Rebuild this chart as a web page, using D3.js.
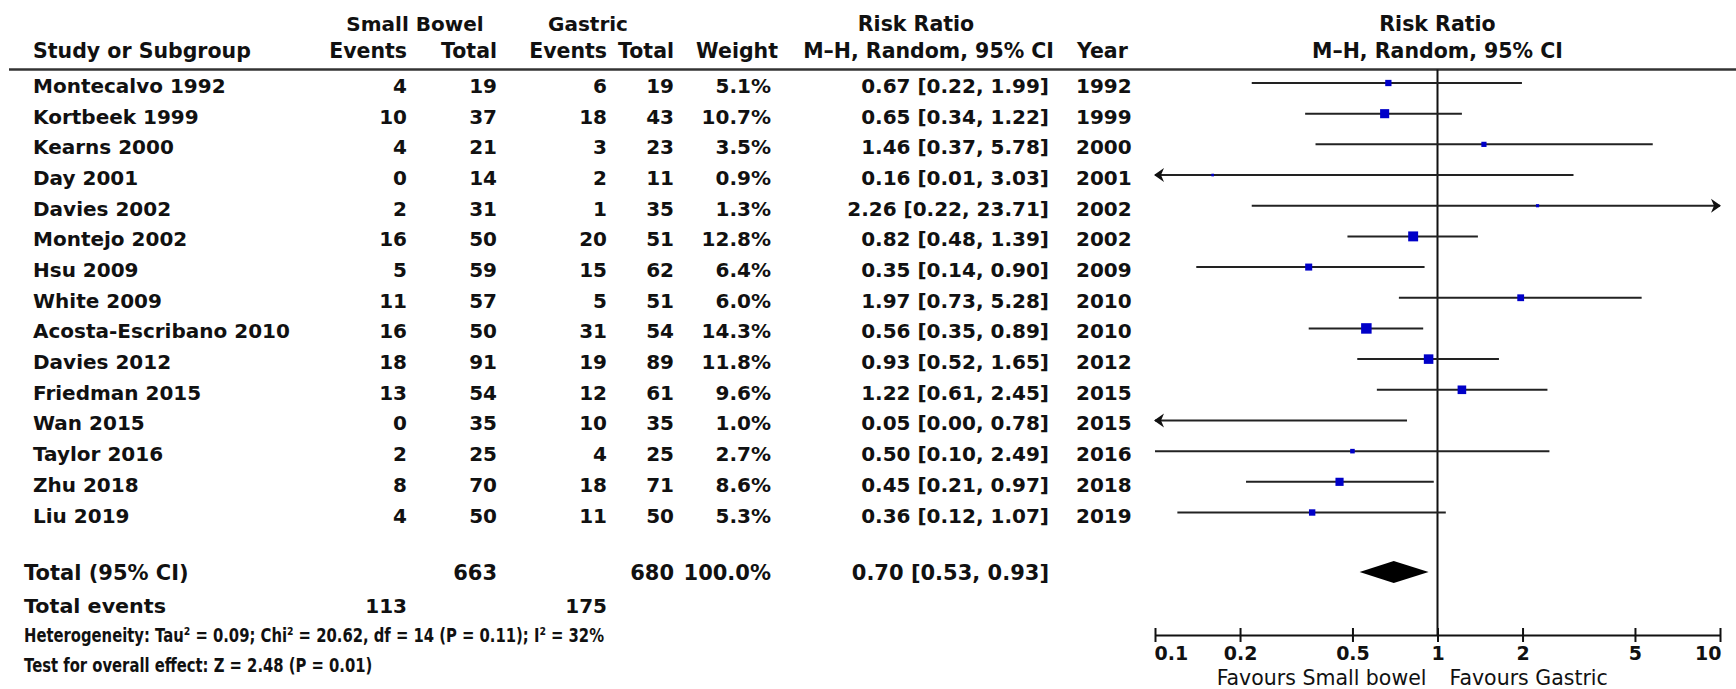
<!DOCTYPE html>
<html>
<head>
<meta charset="utf-8">
<script src="https://cdn.jsdelivr.net/npm/d3@7/dist/d3.min.js"></script>
<style>
  body { margin: 0; background: #fff; }
  svg { display: block; }
  text { font-family: "DejaVu Sans", sans-serif; fill: #111; }
</style>
</head>
<body>
<div id="chart"></div>
<script>
// study data
var studies = ["Montecalvo 1992", "Kortbeek 1999", "Kearns 2000", "Day 2001", "Davies 2002",
  "Montejo 2002", "Hsu 2009", "White 2009", "Acosta-Escribano 2010", "Davies 2012",
  "Friedman 2015", "Wan 2015", "Taylor 2016", "Zhu 2018", "Liu 2019"];
var sbEvents = [4, 10, 4, 0, 2, 16, 5, 11, 16, 18, 13, 0, 2, 8, 4];
var sbTotal  = [19, 37, 21, 14, 31, 50, 59, 57, 50, 91, 54, 35, 25, 70, 50];
var gEvents  = [6, 18, 3, 2, 1, 20, 15, 5, 31, 19, 12, 10, 4, 18, 11];
var gTotal   = [19, 43, 23, 11, 35, 51, 62, 51, 54, 89, 61, 35, 25, 71, 50];
var weights  = [5.1, 10.7, 3.5, 0.9, 1.3, 12.8, 6.4, 6.0, 14.3, 11.8, 9.6, 1.0, 2.7, 8.6, 5.3];
var rr       = [0.67, 0.65, 1.46, 0.16, 2.26, 0.82, 0.35, 1.97, 0.56, 0.93, 1.22, 0.05, 0.50, 0.45, 0.36];
var ciLow    = [0.22, 0.34, 0.37, 0.01, 0.22, 0.48, 0.14, 0.73, 0.35, 0.52, 0.61, 0.00, 0.10, 0.21, 0.12];
var ciHigh   = [1.99, 1.22, 5.78, 3.03, 23.71, 1.39, 0.90, 5.28, 0.89, 1.65, 2.45, 0.78, 2.49, 0.97, 1.07];
var years    = [1992, 1999, 2000, 2001, 2002, 2002, 2009, 2010, 2010, 2012, 2015, 2015, 2016, 2018, 2019];

var pooled = {rr: 0.70, lo: 0.53, hi: 0.93};
var totals = {sbTotal: 663, gTotal: 680, weight: "100.0%", sbEvents: 113, gEvents: 175};
var tickVals = [0.1, 0.2, 0.5, 1, 2, 5, 10];
var hetText = "Heterogeneity: Tau\u00b2 = 0.09; Chi\u00b2 = 20.62, df = 14 (P = 0.11); I\u00b2 = 32%";
var testText = "Test for overall effect: Z = 2.48 (P = 0.01)";

var W = 1736, H = 689;
var axisY = 635, headLineY = 69.5, totalY = 572;

var svg = d3.select("#chart").append("svg")
  .attr("width", W)
  .attr("height", H);

var x = d3.scaleLog().domain([0.1, 10]).range([1155, 1720]);
var y = d3.scaleLinear().domain([0, studies.length - 1]).range([83, 512.5]);
var box = d3.scaleSqrt().domain([0, 14.3]).range([0, 10.5]);
var f2 = d3.format(".2f");

function put(txt, px, py, anchor, size, weight) {
  return svg.append("text")
    .attr("x", px).attr("y", py)
    .attr("text-anchor", anchor || "start")
    .attr("font-size", size || 20)
    .attr("font-weight", weight || "bold")
    .text(txt);
}

// headers
put("Small Bowel", 415, 31, "middle", 20);
put("Gastric", 588, 31, "middle", 20);
put("Risk Ratio", 916, 31, "middle", 20.5);
put("Risk Ratio", x(1), 31, "middle", 20.5);
put("Study or Subgroup", 33, 58, "start", 20.5);
put("Events", 407, 58, "end", 20.5);
put("Total", 497, 58, "end", 20.5);
put("Events", 607, 58, "end", 20.5);
put("Total", 674, 58, "end", 20.5);
put("Weight", 778, 58, "end", 20.5);
put("M\u2013H, Random, 95% CI", 1054, 58, "end", 20.5);
put("Year", 1077, 58, "start", 20.5);
put("M\u2013H, Random, 95% CI", x(1), 58, "middle", 20.5);

svg.append("line")
  .attr("x1", 9).attr("x2", W)
  .attr("y1", headLineY).attr("y2", headLineY)
  .attr("stroke", "#333").attr("stroke-width", 2.5);

// table columns
var cols = [
  {vals: studies, x: 33, anchor: "start"},
  {vals: sbEvents, x: 407, anchor: "end"},
  {vals: sbTotal, x: 497, anchor: "end"},
  {vals: gEvents, x: 607, anchor: "end"},
  {vals: gTotal, x: 674, anchor: "end"},
  {vals: weights.map(function(d) { return d.toFixed(1) + "%"; }), x: 771, anchor: "end"},
  {vals: rr.map(function(d, i) { return f2(d) + " [" + f2(ciLow[i]) + ", " + f2(ciHigh[i]) + "]"; }), x: 1049, anchor: "end"},
  {vals: years, x: 1076, anchor: "start"}
];

cols.forEach(function(c) {
  svg.append("g").selectAll("text")
    .data(c.vals)
    .enter()
    .append("text")
    .attr("x", c.x)
    .attr("y", function(d, i) { return y(i) + 10; })
    .attr("text-anchor", c.anchor)
    .attr("font-size", 20)
    .attr("font-weight", "bold")
    .text(function(d) { return d; });
});

// total row
put("Total (95% CI)", 24, totalY + 8, "start", 21);
put(totals.sbTotal, 497, totalY + 8, "end", 21);
put(totals.gTotal, 674, totalY + 8, "end", 21);
put(totals.weight, 771, totalY + 8, "end", 21);
put(f2(pooled.rr) + " [" + f2(pooled.lo) + ", " + f2(pooled.hi) + "]", 1049, totalY + 8, "end", 21);
put("Total events", 24, 613, "start", 20).attr("textLength", 142).attr("lengthAdjust", "spacingAndGlyphs");
put(totals.sbEvents, 407, 613, "end", 20);
put(totals.gEvents, 607, 613, "end", 20);
var het = put(hetText, 24, 642, "start", 20);
var tst = put(testText, 24, 672, "start", 20);
// footer text is condensed in the original
var k = 580 / het.node().getComputedTextLength();
het.attr("textLength", 580).attr("lengthAdjust", "spacingAndGlyphs");
tst.attr("textLength", tst.node().getComputedTextLength() * k).attr("lengthAdjust", "spacingAndGlyphs");

// line of no effect
svg.append("line")
  .attr("x1", x(1)).attr("x2", x(1))
  .attr("y1", headLineY).attr("y2", axisY)
  .attr("stroke", "#111").attr("stroke-width", 2);

// CI lines
var lo = x.domain()[0], hi = x.domain()[1];
svg.append("g").selectAll("line")
  .data(rr)
  .enter()
  .append("line")
  .attr("x1", function(d, i) { return x(Math.max(ciLow[i], lo)); })
  .attr("x2", function(d, i) { return x(Math.min(ciHigh[i], hi)); })
  .attr("y1", function(d, i) { return y(i); })
  .attr("y2", function(d, i) { return y(i); })
  .attr("stroke", "#222").attr("stroke-width", 2);

// arrows where CI runs off the scale
rr.forEach(function(d, i) {
  var yy = y(i);
  if (ciLow[i] < lo) {
    var t = x(lo) - 1;
    svg.append("path")
      .attr("d", "M" + t + "," + yy + "L" + (t + 10) + "," + (yy - 7) + "L" + (t + 7) + "," + yy + "L" + (t + 10) + "," + (yy + 7) + "Z")
      .attr("fill", "#111");
  }
  if (ciHigh[i] > hi) {
    var t2 = x(hi) + 1;
    svg.append("path")
      .attr("d", "M" + t2 + "," + yy + "L" + (t2 - 10) + "," + (yy - 7) + "L" + (t2 - 7) + "," + yy + "L" + (t2 - 10) + "," + (yy + 7) + "Z")
      .attr("fill", "#111");
  }
});

// weight boxes (only when the estimate is on the scale)
var onScale = rr.map(function(d, i) { return i; })
  .filter(function(i) { return rr[i] >= lo && rr[i] <= hi; });
svg.append("g").selectAll("rect")
  .data(onScale)
  .enter()
  .append("rect")
  .attr("x", function(i) { return x(rr[i]) - box(weights[i]) / 2; })
  .attr("y", function(i) { return y(i) - box(weights[i]) / 2; })
  .attr("width", function(i) { return box(weights[i]); })
  .attr("height", function(i) { return box(weights[i]); })
  .attr("fill", "#0000c8");

// pooled diamond
svg.append("path")
  .attr("d", "M" + x(pooled.lo) + "," + totalY +
    "L" + x(pooled.rr) + "," + (totalY - 11) +
    "L" + x(pooled.hi) + "," + totalY +
    "L" + x(pooled.rr) + "," + (totalY + 11) + "Z")
  .attr("fill", "#000");

// axis
var ag = svg.append("g")
  .attr("transform", "translate(0," + axisY + ")")
  .call(d3.axisBottom(x).tickValues(tickVals).tickFormat(d3.format("~g")).tickSizeOuter(0));
ag.attr("font-family", null).attr("font-size", null);
ag.select(".domain").attr("stroke", "#111").attr("stroke-width", 2);
ag.selectAll(".tick line").attr("y1", -7).attr("y2", 7).attr("stroke", "#111").attr("stroke-width", 2);
ag.selectAll(".tick text")
  .attr("y", 25).attr("dy", null)
  .attr("font-size", 19).attr("font-weight", "bold")
  .attr("fill", "#111")
  .attr("text-anchor", function(d, i) { return i == 0 ? "start" : (i == tickVals.length - 1 ? "end" : "middle"); })
  .attr("x", function(d, i) { return i == 0 ? -1 : (i == tickVals.length - 1 ? 1 : 0); });

put("Favours Small bowel", x(1) - 11, 685, "end", 20.5, "normal");
put("Favours Gastric", x(1) + 12, 685, "start", 20.5, "normal");
</script>
</body>
</html>
